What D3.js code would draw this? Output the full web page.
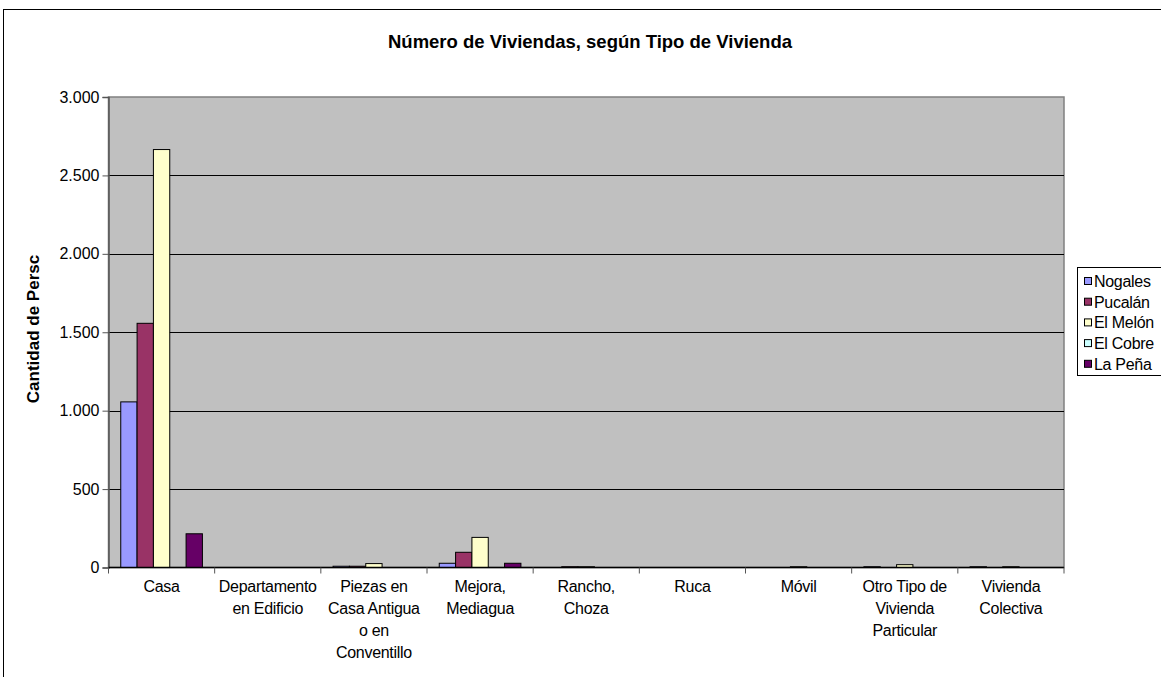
<!DOCTYPE html>
<html>
<head>
<meta charset="utf-8">
<script src="https://cdn.jsdelivr.net/npm/d3@7"></script>
<style>
body { margin: 0; background: #fff; }
svg text { font-family: "Liberation Sans", Arial, sans-serif; }
</style>
</head>
<body>
<svg width="1161" height="677"></svg>
<script>
var categories = [
  ["Casa"],
  ["Departamento", "en Edificio"],
  ["Piezas en", "Casa Antigua", "o en", "Conventillo"],
  ["Mejora,", "Mediagua"],
  ["Rancho,", "Choza"],
  ["Ruca"],
  ["Móvil"],
  ["Otro Tipo de", "Vivienda", "Particular"],
  ["Vivienda", "Colectiva"]
];
var seriesNames = ["Nogales", "Pucalán", "El Melón", "El Cobre", "La Peña"];
var colors = ["#9999ff", "#993366", "#ffffcc", "#ccffff", "#660066"];

var nogales = [1056, 0, 8, 27, 0, 0, 0, 5, 5];
var pucalan = [1557, 0, 8, 97, 5, 0, 0, 0, 0];
var elMelon = [2665, 0, 25, 192, 5, 0, 5, 18, 5];
var elCobre = [0, 0, 0, 0, 0, 0, 0, 0, 0];
var laPena = [215, 0, 0, 27, 0, 0, 0, 0, 0];
var yTicks = [0, 500, 1000, 1500, 2000, 2500, 3000];

var values = [nogales, pucalan, elMelon, elCobre, laPena];

var svg = d3.select("svg");

// chart frame
svg.append("rect")
  .attr("x", 3.5).attr("y", 9.5)
  .attr("width", 1200).attr("height", 700)
  .attr("fill", "#fff").attr("stroke", "#000");

var plotL = 108.5, plotT = 97, plotR = 1064, plotB = 567.5;

var x = d3.scaleBand().domain(d3.range(categories.length)).range([plotL, plotR]).padding(0);
var y = d3.scaleLinear().domain([0, 3000]).range([plotB, plotT]);

// plot area
svg.append("rect")
  .attr("x", plotL).attr("y", plotT)
  .attr("width", plotR - plotL).attr("height", plotB - plotT)
  .attr("fill", "#c0c0c0").attr("stroke", "#808080").attr("stroke-width", 1.5);

// gridlines
svg.append("g").selectAll("line")
  .data(yTicks.slice(1, -1))
  .enter().append("line")
  .attr("x1", plotL).attr("x2", plotR)
  .attr("y1", d => Math.round(y(d)) + 0.5).attr("y2", d => Math.round(y(d)) + 0.5)
  .attr("stroke", "#000");

// bars
var barW = x.bandwidth() / (seriesNames.length + 1.5);
var inner = d3.scaleBand().domain(d3.range(seriesNames.length))
  .range([barW * 0.75, barW * 0.75 + barW * seriesNames.length]);

values.forEach(function(vals, s) {
  svg.append("g").selectAll("rect")
    .data(vals.map((v, i) => ({v: v, i: i})).filter(d => d.v > 0))
    .enter().append("rect")
    .attr("x", d => x(d.i) + inner(s))
    .attr("y", d => y(d.v))
    .attr("width", inner.bandwidth())
    .attr("height", d => plotB - y(d.v))
    .attr("fill", colors[s])
    .attr("stroke", "#000")
    .attr("stroke-width", 1);
});

// y axis
var yAxis = svg.append("g")
  .attr("transform", "translate(" + plotL + ",0)")
  .call(d3.axisLeft(y).tickValues(yTicks).tickSize(6).tickPadding(3)
    .tickFormat(d => d3.format(",")(d).replace(/,/g, ".")));
yAxis.select(".domain").attr("stroke", "#555").attr("stroke-width", 1.5);
yAxis.selectAll("line").attr("stroke", "#555");
yAxis.selectAll("text").attr("font-size", 16).attr("fill", "#000");

// x axis
var xAxis = svg.append("g")
  .attr("transform", "translate(0," + plotB + ")");
xAxis.append("line")
  .attr("x1", plotL).attr("x2", plotR).attr("y1", 0).attr("y2", 0)
  .attr("stroke", "#000").attr("stroke-width", 1.5);
xAxis.selectAll(".tick")
  .data(d3.range(categories.length + 1))
  .enter().append("line")
  .attr("x1", d => plotL + d * x.bandwidth()).attr("x2", d => plotL + d * x.bandwidth())
  .attr("y1", 0).attr("y2", 6)
  .attr("stroke", "#555");

var labels = xAxis.selectAll(".lbl")
  .data(categories)
  .enter().append("text")
  .attr("text-anchor", "middle")
  .attr("font-size", 16)
  .attr("letter-spacing", -0.3)
  .attr("y", 24);
labels.each(function(lines, i) {
  var t = d3.select(this);
  lines.forEach(function(line, j) {
    t.append("tspan")
      .attr("x", x(i) + x.bandwidth() / 2)
      .attr("dy", j === 0 ? 0 : 22)
      .text(line);
  });
});

// title
svg.append("text")
  .attr("x", 590).attr("y", 48)
  .attr("text-anchor", "middle")
  .attr("font-size", 18.5).attr("font-weight", "bold")
  .text("Número de Viviendas, según Tipo de Vivienda");

// y label
svg.append("text")
  .attr("transform", "translate(39,329) rotate(-90)")
  .attr("text-anchor", "middle")
  .attr("font-size", 17).attr("font-weight", "bold")
  .text("Cantidad de Persc");

// legend
var legend = svg.append("g").attr("transform", "translate(1077,267)");
legend.append("rect")
  .attr("x", 0.5).attr("y", 0.5).attr("width", 120).attr("height", 108)
  .attr("fill", "#fff").attr("stroke", "#000");
var items = legend.selectAll(".item")
  .data(seriesNames)
  .enter().append("g")
  .attr("transform", (d, i) => "translate(0," + (14 + i * 20.7) + ")");
items.append("rect")
  .attr("x", 7.5).attr("y", -3.5).attr("width", 7).attr("height", 7)
  .attr("fill", (d, i) => colors[i]).attr("stroke", "#000");
items.append("text")
  .attr("x", 17).attr("y", 6)
  .attr("font-size", 16)
  .attr("letter-spacing", -0.3)
  .text(d => d);
</script>
</body>
</html>
